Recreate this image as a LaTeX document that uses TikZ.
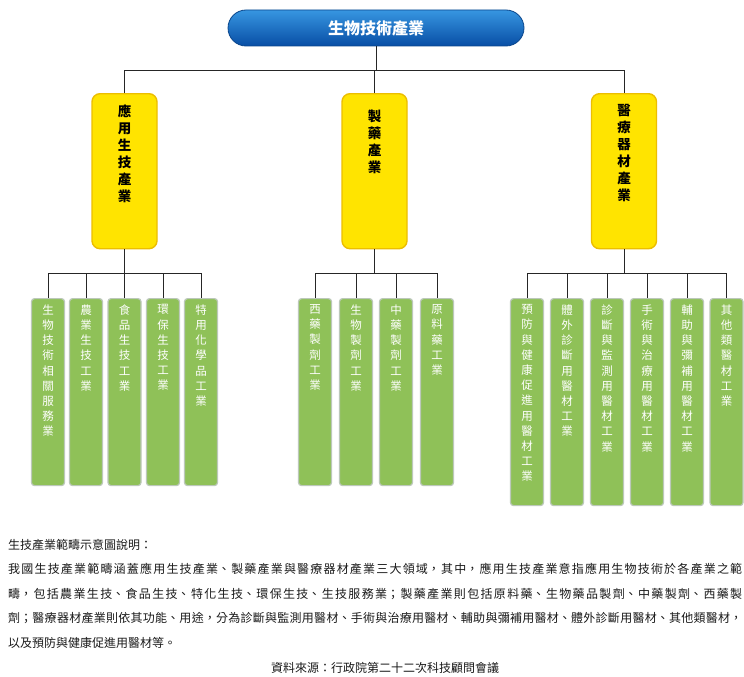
\documentclass[tikz,border=0pt]{standalone}
\usepackage{fontspec}
\setmainfont{Noto Sans CJK TC}
\XeTeXlinebreaklocale "zh"
\XeTeXlinebreakskip=0pt plus 1pt
\definecolor{ylw}{RGB}{255,228,0}
\definecolor{ylwb}{RGB}{236,190,0}
\definecolor{grn}{RGB}{143,193,88}
\definecolor{grnb}{RGB}{188,200,186}
\definecolor{blueA}{RGB}{55,150,225}
\definecolor{blueB}{RGB}{8,78,165}
\definecolor{blueE}{RGB}{10,70,140}
\newcommand\ybody[1]{\parbox[t][155pt][t]{65pt}{\centering\vspace*{11pt}\fontsize{13.5}{17}\selectfont\bfseries #1}}
\newcommand\gbody[2]{\parbox[t][#1][t]{33pt}{\centering\vspace*{6pt}\fontsize{11.5}{15.2}\selectfont\color{white}#2}}
\begin{document}
\begin{tikzpicture}[x=1pt,y=-1pt,
  conn/.style={draw=black!85, line width=0.9pt},
  pill/.style={rounded corners=18pt, top color=blueA, bottom color=blueB, draw=blueE, line width=0.8pt,
    minimum width=296pt, minimum height=36pt, inner sep=0pt, text=white,
    font=\fontsize{16}{16}\selectfont\bfseries},
  ybox/.style={fill=ylw, draw=ylwb, line width=1.4pt, rounded corners=8pt, inner sep=0pt, anchor=north},
  gbox/.style={fill=grn, draw=grnb, line width=1.2pt, rounded corners=3pt, inner sep=0pt, anchor=north}
]
\path[use as bounding box, fill=white] (0,0) rectangle (744,677);

\node[pill] (root) at (376,28) {生物技術產業};

\node[ybox] (A) at (124.5,93) {\ybody{應\\用\\生\\技\\產\\業}};
\node[ybox] (B) at (374.5,93) {\ybody{\vspace*{5pt}製\\藥\\產\\業}};
\node[ybox] (C) at (624,93) {\ybody{醫\\療\\器\\材\\產\\業}};

\draw[conn] (root.south) -- ++(0,24);
\draw[conn] (A.north) -- ++(0,-23) -| (C.north);
\draw[conn] (B.north) -- ++(0,-23);

% applied biotech
\node[gbox] (a1) at (48,298)  {\gbody{187pt}{生\\物\\技\\術\\相\\關\\服\\務\\業}};
\node[gbox] (a2) at (86,298)  {\gbody{187pt}{農\\業\\生\\技\\工\\業}};
\node[gbox] (a3) at (124.5,298) {\gbody{187pt}{食\\品\\生\\技\\工\\業}};
\node[gbox] (a4) at (163,298) {\gbody{187pt}{環\\保\\生\\技\\工\\業}};
\node[gbox] (a5) at (201,298) {\gbody{187pt}{特\\用\\化\\學\\品\\工\\業}};
% pharma
\node[gbox] (b1) at (315,298) {\gbody{187pt}{西\\藥\\製\\劑\\工\\業}};
\node[gbox] (b2) at (356,298) {\gbody{187pt}{生\\物\\製\\劑\\工\\業}};
\node[gbox] (b3) at (396,298) {\gbody{187pt}{中\\藥\\製\\劑\\工\\業}};
\node[gbox] (b4) at (437,298) {\gbody{187pt}{原\\料\\藥\\工\\業}};
% medical devices
\node[gbox] (c1) at (527,298) {\gbody{207pt}{預\\防\\與\\健\\康\\促\\進\\用\\醫\\材\\工\\業}};
\node[gbox] (c2) at (567,298) {\gbody{207pt}{體\\外\\診\\斷\\用\\醫\\材\\工\\業}};
\node[gbox] (c3) at (607,298) {\gbody{207pt}{診\\斷\\與\\監\\測\\用\\醫\\材\\工\\業}};
\node[gbox] (c4) at (647,298) {\gbody{207pt}{手\\術\\與\\治\\療\\用\\醫\\材\\工\\業}};
\node[gbox] (c5) at (687,298) {\gbody{207pt}{輔\\助\\與\\彌\\補\\用\\醫\\材\\工\\業}};
\node[gbox] (c6) at (726.5,298) {\gbody{207pt}{其\\他\\類\\醫\\材\\工\\業}};

\draw[conn] (A.south) -- ++(0,24) coordinate (ja);
\draw[conn] (a1.north) |- (ja) -| (a5.north);
\foreach \n in {a2,a3,a4} \draw[conn] (\n.north) -- (\n.north |- ja);

\draw[conn] (B.south) -- ++(0,24) coordinate (jb);
\draw[conn] (b1.north) |- (jb) -| (b4.north);
\foreach \n in {b2,b3} \draw[conn] (\n.north) -- (\n.north |- jb);

\draw[conn] (C.south) -- ++(0,24) coordinate (jc);
\draw[conn] (c1.north) |- (jc) -| (c6.north);
\foreach \n in {c2,c3,c4,c5} \draw[conn] (\n.north) -- (\n.north |- jc);

\node[anchor=north west, inner sep=0pt, text width=734pt, align=justify,
      font=\fontsize{12}{24.5}\selectfont, text=black!90] (para) at (8,539)
 {生技產業範疇示意圖說明：\\
  我國生技產業範疇涵蓋應用生技產業、製藥產業與醫療器材產業三大領域，其中，應用生技產業意指應用生物技術於各產業之範\linebreak
  疇，包括農業生技、食品生技、特化生技、環保生技、生技服務業；製藥產業則包括原料藥、生物藥品製劑、中藥製劑、西藥製\linebreak
  劑；醫療器材產業則依其功能、用途，分為診斷與監測用醫材、手術與治療用醫材、輔助與彌補用醫材、體外診斷用醫材、其他類醫材，\linebreak
  以及預防與健康促進用醫材等。};

\node[font=\fontsize{12}{12}\selectfont, text=black!90, inner sep=0pt] (src) at (385,668)
 {資料來源：行政院第二十二次科技顧問會議};
\end{tikzpicture}
\end{document}
